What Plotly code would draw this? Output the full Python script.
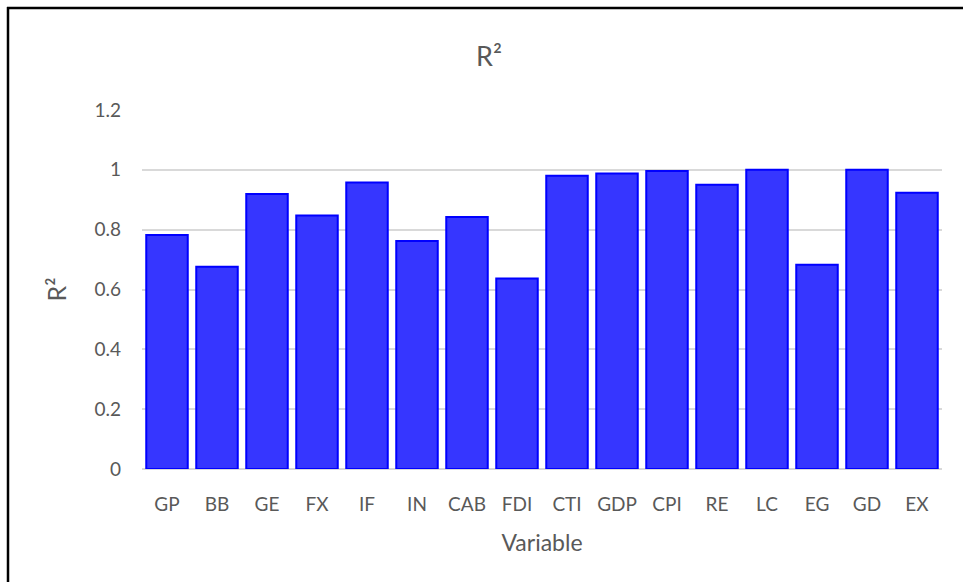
import plotly.graph_objects as go

categories = ["GP", "BB", "GE", "FX", "IF", "IN", "CAB", "FDI", "CTI", "GDP", "CPI", "RE", "LC", "EG", "GD", "EX"]
r2_values = [0.782, 0.676, 0.919, 0.847, 0.958, 0.762, 0.842, 0.637, 0.980, 0.988, 0.996, 0.950, 1.0, 0.683, 1.0, 0.923]
y_ticks = [0, 0.2, 0.4, 0.6, 0.8, 1, 1.2]
y_tick_labels = ["0", "0.2", "0.4", "0.6", "0.8", "1", "1.2"]

FONT = "Lato, Open Sans, Arial, sans-serif"
GREY = "#595959"

W, H = 963, 582
L, R, T, B = 142, 21, 110, 113
PW, PH = W - L - R, H - T - B


def px(x):
    return (x - L) / PW


def py(y):
    return (H - B - y) / PH


fig = go.Figure(go.Bar(
    x=categories, y=r2_values,
    marker=dict(color="#3636FF", line=dict(color="#0000FF", width=2)),
))

fig.update_layout(
    width=W, height=H,
    margin=dict(l=L, r=R, t=T, b=B),
    paper_bgcolor="white", plot_bgcolor="white",
    bargap=0.17,
    showlegend=False,
    font=dict(family=FONT, color=GREY, size=19),
    title=dict(text="R²", x=489 / W, xref="container", xanchor="center",
               y=1 - 57 / H, yref="container", yanchor="middle",
               font=dict(family=FONT, size=27, color=GREY)),
    xaxis=dict(
        title=dict(text="Variable", font=dict(size=23, color=GREY), standoff=20),
        tickfont=dict(size=19, color=GREY),
        showgrid=False, showline=False, ticks="", ticklen=0,
        ticklabelstandoff=22,
    ),
    yaxis=dict(
        title=dict(text="R²", font=dict(size=25, color=GREY), standoff=20),
        range=[0, 1.2], tickvals=y_ticks, ticktext=y_tick_labels,
        tickfont=dict(size=19, color=GREY),
        showgrid=True, gridcolor="#D9D9D9", gridwidth=1.5,
        zeroline=True, zerolinecolor="#D9D9D9", zerolinewidth=1.5,
        showline=False, ticks="", ticklabelstandoff=20,
    ),
    shapes=[
        dict(type="line", xref="paper", yref="paper",
             x0=px(7), x1=px(970), y0=py(8), y1=py(8),
             line=dict(color="black", width=2.5), layer="below"),
        dict(type="line", xref="paper", yref="paper",
             x0=px(8), x1=px(8), y0=py(7), y1=py(590),
             line=dict(color="black", width=2.5), layer="below"),
    ],
)

fig.write_html("out.html")
